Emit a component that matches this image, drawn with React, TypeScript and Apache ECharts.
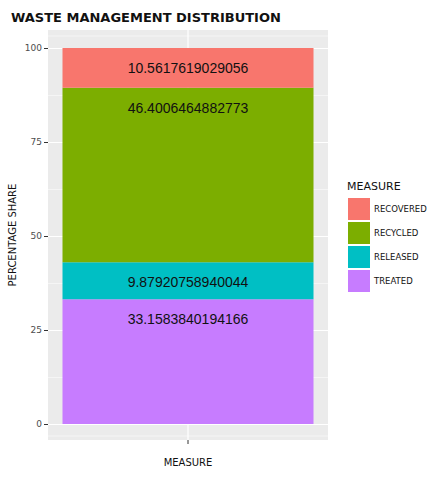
import React, { useEffect, useRef } from "react";
import * as echarts from "echarts";

const categories = ["Measure"];
const measures = ["Recovered", "Recycled", "Released", "Treated"];
const values = [10.5617619029056, 46.4006464882773, 9.87920758940044, 33.1583840194166];
const labels = ["10.5617619029056", "46.4006464882773", "9.87920758940044", "33.1583840194166"];
const colors = ["#F8766D", "#7CAE00", "#00BFC4", "#C77CFF"];
const stackOrder = [3, 2, 1, 0];

const FONT = "'Comic Sans MS', 'DejaVu Sans', sans-serif";

export default function App() {
  const ref = useRef<HTMLDivElement>(null);
  useEffect(() => {
    const chart = echarts.init(ref.current!, null, { renderer: "svg" });
    const series = stackOrder.map((i) => ({
      name: measures[i],
      type: "bar",
      stack: "s",
      barWidth: 251,
      data: [values[i]],
      itemStyle: { color: colors[i] },
      label: {
        show: true,
        position: "insideTop",
        distance: 13,
        formatter: labels[i],
        color: "#111",
        fontSize: 14,
        fontFamily: "Arial, 'Liberation Sans', sans-serif",
      },
    }));
    const legendItems: any[] = [
      { type: "text", left: 347, top: 181, style: { text: "MEASURE", fontSize: 11, fontFamily: FONT, fill: "#111" } },
    ];
    measures.forEach((m, i) => {
      const y = 198 + i * 24;
      legendItems.push({ type: "rect", shape: { x: 348, y, width: 22, height: 22 }, style: { fill: colors[i] } });
      legendItems.push({ type: "text", x: 374, y: y + 6, style: { text: m.toUpperCase(), fontSize: 8.5, fontFamily: FONT, fill: "#111" } });
    });
    chart.setOption({
      animation: false,
      title: {
        text: "WASTE MANAGEMENT DISTRIBUTION",
        left: 6, top: 6,
        textStyle: { fontSize: 13, fontWeight: "bold", fontFamily: FONT, color: "#111" },
      },
      grid: { left: 48, right: 114, top: 48, bottom: 60 },
      graphic: [
        { type: "rect", z: -10, shape: { x: 48, y: 30, width: 280, height: 410 }, style: { fill: "#EBEBEB" } },
        { type: "line", z: -9, shape: { x1: 188, y1: 30, x2: 188, y2: 440 }, style: { stroke: "#fff", lineWidth: 1.2 } },
        ...[-6.25, 112.5].map(() => null).filter(Boolean) as any[],
        { type: "line", z: -9, shape: { x1: 48, y1: 36, x2: 328, y2: 36 }, style: { stroke: "#fff", lineWidth: 0.5 } },
        { type: "line", z: -9, shape: { x1: 48, y1: 436, x2: 328, y2: 436 }, style: { stroke: "#fff", lineWidth: 0.5 } },
        { type: "line", shape: { x1: 188, y1: 440, x2: 188, y2: 444 }, style: { stroke: "#333", lineWidth: 1 } },
        { type: "text", x: 188, y: 457, style: { text: "MEASURE", fontSize: 10, fontFamily: FONT, fill: "#111", align: "center" } },
        { type: "text", x: 12, y: 235, rotation: Math.PI / 2, style: { text: "PERCENTAGE SHARE", fontSize: 10, fontFamily: FONT, fill: "#111", align: "center", verticalAlign: "middle" } },
        ...legendItems,
      ],
      xAxis: {
        type: "category",
        data: categories,
        axisLine: { show: false },
        axisTick: { show: false },
        axisLabel: { show: false },
      },
      yAxis: {
        type: "value",
        min: 0, max: 100, interval: 25,
        axisLine: { show: false },
        axisTick: { show: true, length: 4, lineStyle: { color: "#333" } },
        axisLabel: { fontSize: 9, color: "#4d4d4d", fontFamily: FONT, margin: 6 },
        splitLine: { lineStyle: { color: "#fff", width: 1.2 } },
        minorTick: { show: false, splitNumber: 2 },
        minorSplitLine: { show: true, lineStyle: { color: "#fff", width: 0.5 } },
      },
      series,
    });
    return () => chart.dispose();
  }, []);
  return <div ref={ref} style={{ width: 442, height: 484, position: "absolute", left: 0, top: 0 }} />;
}
